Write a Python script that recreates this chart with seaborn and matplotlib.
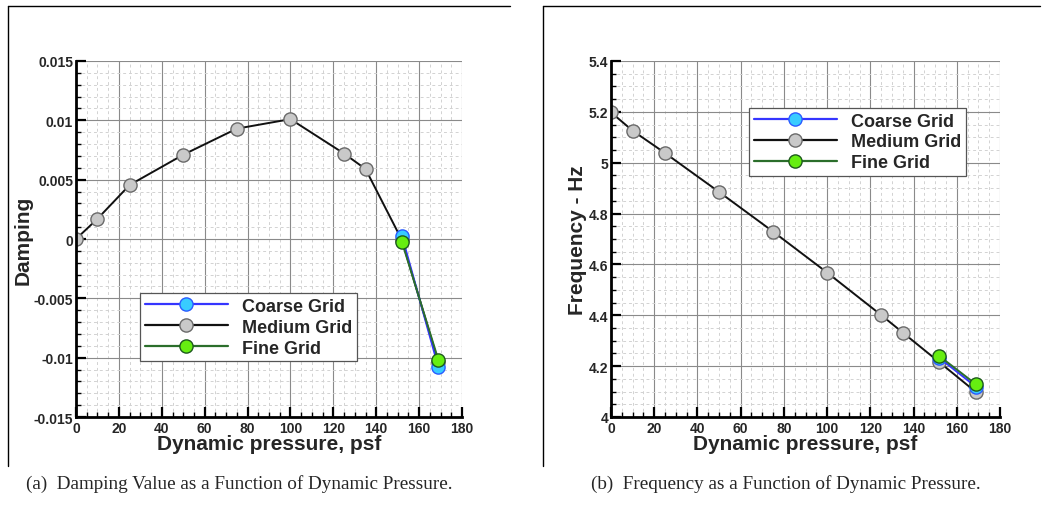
import matplotlib
matplotlib.use("Agg")
import matplotlib.pyplot as plt
from matplotlib.ticker import MultipleLocator, FuncFormatter
from matplotlib.lines import Line2D
import seaborn as sns
import pandas as pd

# ---- data ----
q_medium = [0, 10, 25, 50, 75, 100, 125, 135, 152, 169]
damp_medium = [0.0, 0.0017, 0.00455, 0.0071, 0.0093, 0.0101, 0.0072, 0.0059, -0.0001, -0.0104]
freq_medium = [5.198, 5.126, 5.038, 4.885, 4.729, 4.568, 4.401, 4.332, 4.215, 4.097]

q_coarse = [152, 169]
damp_coarse = [0.00025, -0.0108]
freq_coarse = [4.232, 4.118]

q_fine = [152, 169]
damp_fine = [-0.00025, -0.0102]
freq_fine = [4.239, 4.128]

series_names = ["Coarse Grid", "Medium Grid", "Fine Grid"]
x_label = "Dynamic pressure, psf"
y_labels = ["Damping", "Frequency - Hz"]
captions = ["(a)  Damping Value as a Function of Dynamic Pressure.",
            "(b)  Frequency as a Function of Dynamic Pressure."]

sns.set_style("white")
plt.rcParams["font.family"] = ["Liberation Sans", "DejaVu Sans"]

styles = {
    "Coarse Grid": dict(color="#3535ff", markerfacecolor="#38ccff", markeredgecolor="#2a5cff"),
    "Medium Grid": dict(color="#111111", markerfacecolor="#c9c9c9", markeredgecolor="#6a6a6a"),
    "Fine Grid": dict(color="#2b6e2b", markerfacecolor="#66ee11", markeredgecolor="#1d5a1d"),
}

W, H = 1055, 506
fig = plt.figure(figsize=(W / 100, H / 100), dpi=100)

def axrect(x0, x1, ytop, ybot):
    return [x0 / W, 1 - ybot / H, (x1 - x0) / W, (ybot - ytop) / H]

ax1 = fig.add_axes(axrect(76, 462, 62, 418))
ax2 = fig.add_axes(axrect(611, 1000, 62, 418))

def draw(ax, yc, ym, yf):
    order = [("Medium Grid", q_medium, ym), ("Coarse Grid", q_coarse, yc), ("Fine Grid", q_fine, yf)]
    for name, xs, ys in order:
        df = pd.DataFrame({"q": xs, "v": ys})
        sns.lineplot(data=df, x="q", y="v", ax=ax, marker="o", markersize=9.5,
                     markeredgewidth=1.0, linewidth=1.4, sort=False, estimator=None,
                     label=None, legend=False, **styles[name], zorder=3)

draw(ax1, damp_coarse, damp_medium, damp_fine)
draw(ax2, freq_coarse, freq_medium, freq_fine)

def style_axis(ax, ylim, ymaj, ymin, ylabel):
    ax.set_xlim(0, 180)
    ax.set_ylim(*ylim)
    ax.xaxis.set_major_locator(MultipleLocator(20))
    ax.xaxis.set_minor_locator(MultipleLocator(5))
    ax.yaxis.set_major_locator(MultipleLocator(ymaj))
    ax.yaxis.set_minor_locator(MultipleLocator(ymin))
    ax.yaxis.set_major_formatter(FuncFormatter(lambda v, p: "%g" % round(v, 6)))
    ax.xaxis.set_major_formatter(FuncFormatter(lambda v, p: "%g" % v))
    ax.grid(True, which="major", color="#8a8a8a", linewidth=0.8, linestyle="-")
    ax.grid(True, which="minor", color="#d2d2d2", linewidth=0.7, linestyle=(0, (3, 3)))
    ax.set_axisbelow(True)
    for s in ["top", "right"]:
        ax.spines[s].set_visible(False)
    for s in ["left", "bottom"]:
        ax.spines[s].set_visible(True)
        ax.spines[s].set_color("black")
        ax.spines[s].set_linewidth(2.0)
        ax.spines[s].set_zorder(4)
    ax.tick_params(which="major", direction="in", length=7, width=1.6, color="black",
                   left=True, bottom=True, top=False, right=False, labelsize=10, pad=2)
    ax.tick_params(which="minor", direction="in", length=3.5, width=1.0, color="black",
                   left=True, bottom=True, top=False, right=False)
    ax.tick_params(axis="x", which="major", pad=3)
    for lab in ax.get_xticklabels() + ax.get_yticklabels():
        lab.set_fontweight("bold")
    ax.set_xlabel(x_label, fontsize=15, fontweight="bold", labelpad=-1)
    ax.set_ylabel(ylabel, fontsize=15, fontweight="bold", labelpad=1)

style_axis(ax1, (-0.015, 0.015), 0.005, 0.001, y_labels[0])
style_axis(ax2, (4.0, 5.4), 0.2, 0.05, y_labels[1])

def legend(ax, loc, anchor):
    handles = [Line2D([], [], marker="o", markersize=9.5, markeredgewidth=1.0,
                      linewidth=1.6, **styles[n]) for n in series_names]
    leg = ax.legend(handles, series_names, loc=loc, bbox_to_anchor=anchor,
                    prop=dict(family="Liberation Sans", weight="bold", size=13),
                    handlelength=4.6, handletextpad=0.8, labelspacing=0.22,
                    borderpad=0.25, borderaxespad=0, fancybox=False, framealpha=1,
                    edgecolor="#555555")
    leg.get_frame().set_linewidth(0.9)
    leg.set_zorder(5)

legend(ax1, "lower left", (0.166, 0.157))
legend(ax2, "upper left", (0.355, 0.868))

# panel frames (cropped figure borders)
for x0, x1 in [(8, 510), (543, 1040)]:
    fig.add_artist(Line2D([x0 / W, x0 / W], [1 - 467 / H, 1 - 7 / H], color="black", linewidth=1.0))
    fig.add_artist(Line2D([x0 / W, x1 / W], [1 - 7 / H, 1 - 7 / H], color="black", linewidth=1.0))

fig.text(239 / W, 1 - 484 / H, captions[0], ha="center", va="center",
         family=["Liberation Serif", "DejaVu Serif"], fontsize=13.8)
fig.text(786 / W, 1 - 484 / H, captions[1], ha="center", va="center",
         family=["Liberation Serif", "DejaVu Serif"], fontsize=13.8)

fig.savefig("out.png", dpi=100)
